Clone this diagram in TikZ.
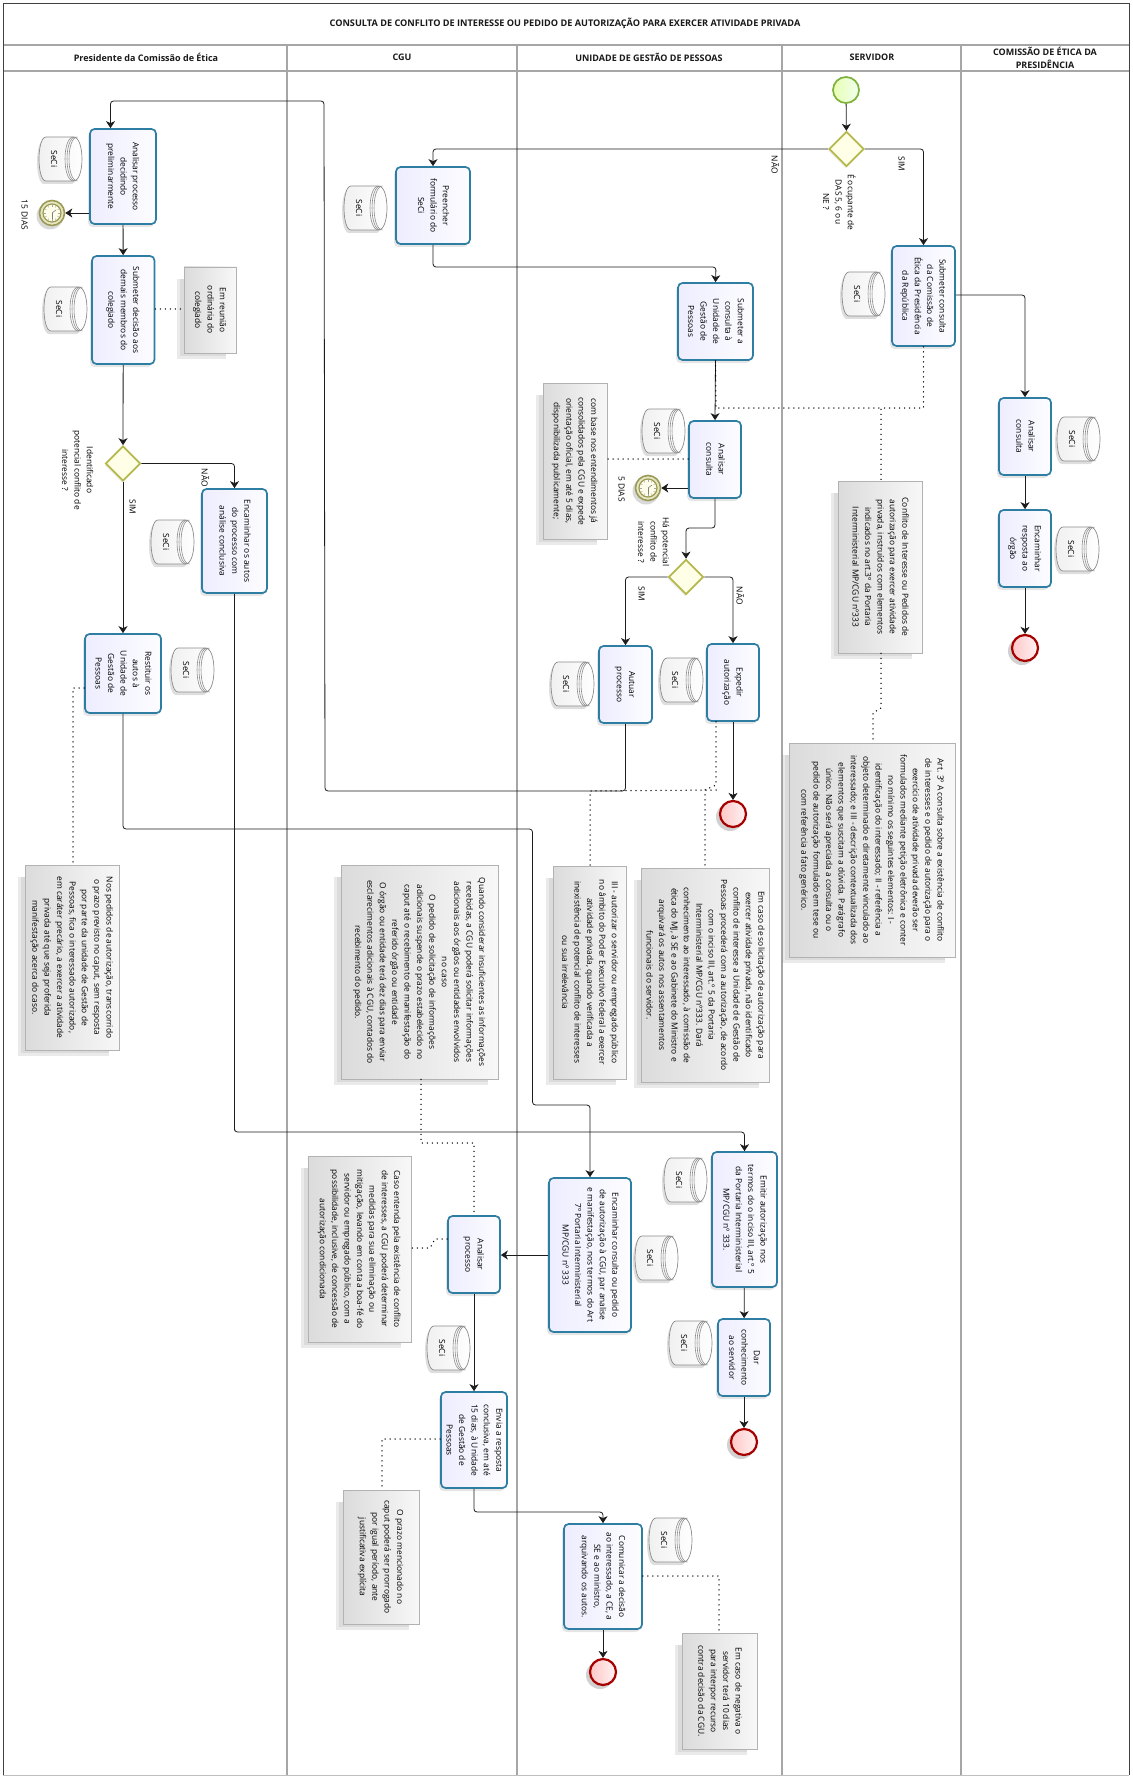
\documentclass[tikz,border=0pt]{standalone}
\usepackage{fontspec}
\usepackage{graphicx}
\setmainfont{Open Sans}
\usetikzlibrary{arrows.meta,shapes.geometric,shadows,calc}
\definecolor{taskblue}{HTML}{2E7DA3}
\definecolor{lanegrey}{HTML}{A6A6A6}
\definecolor{flowline}{HTML}{1C1C1C}
\definecolor{olive}{HTML}{9A9A55}
\definecolor{oliveface}{HTML}{E6E6C2}
\definecolor{gatestroke}{HTML}{B5B84A}
\definecolor{gatefill}{HTML}{FFFFE8}
\definecolor{startstroke}{HTML}{7FB23C}
\newcommand{\fnt}{\fontsize{8.4}{12.4}\selectfont}
\newcommand{\rt}[1]{\rotatebox[origin=c]{-90}{\fnt\begin{tabular}{@{}c@{}}#1\end{tabular}}}
\newcommand{\boxnode}[7][]{% style; name; x1; y1; x2; y2; text
  \node[#1,minimum width={(#5-#3)*1pt},minimum height={(#6-#4)*1pt}] (#2) at ({(#3+#5)/2},{(#4+#6)/2}) {\rt{#7}};}
\newcommand{\tasknode}[6]{\boxnode[taskbox]{#1}{#2}{#3}{#4}{#5}{#6}}
\newcommand{\notenode}[6]{%
  \fill[black!50,opacity=.16] ({#2-7},{#3+12}) rectangle ({#4-10},{#5+6});
  \fill[black!50,opacity=.14] ({#2-4},{#3+12}) rectangle ({#4-10},{#5+3});
  \boxnode[notebox]{#1}{#2}{#3}{#4}{#5}{#6}}
\newcommand{\seci}[3]{%
  \begin{scope}[shift={(#2,#3)}]
    \fill[black,opacity=.13] (5,3) .. controls (-4.3,3) and (-4.3,47) .. (5,47) -- (32.5,47) .. controls (41,47) and (41,3) .. (32.5,3) -- cycle;
    \path[draw=black!45,line width=.7pt,left color=black!6,right color=white] (7,0) .. controls (-2.3,0) and (-2.3,44) .. (7,44) -- (34.5,44) .. controls (45.8,44) and (45.8,0) .. (34.5,0) -- cycle;
    \draw[black!45,line width=.6pt] (34.5,0) .. controls (23.2,0) and (23.2,44) .. (34.5,44);
    \draw[black!45,line width=.6pt] (36.5,0) .. controls (25.2,0) and (25.2,44) .. (36.5,44);
    \draw[black!45,line width=.6pt] (38.5,0) .. controls (27.2,0) and (27.2,44) .. (38.5,44);
    \node[inner sep=0pt] (#1) at (14.5,22) {\rt{SeCi}};
  \end{scope}}
\newcommand{\clockevent}[3]{%
  \fill[black,opacity=.15] (#2-2,#3+3) circle (13.5);
  \node[circle,draw=olive,fill=oliveface,line width=1.6pt,minimum size=25pt,inner sep=0pt] (#1) at (#2,#3) {};
  \draw[olive,fill=white!92!yellow,line width=1.2pt] (#1.center) circle (9);
  \foreach \a in {0,30,...,330} \draw[black!35,line width=.4pt] ($(#1.center)+(\a:8)$) -- ($(#1.center)+(\a:6.2)$);
  \draw[black!50,line width=.6pt] (#1.center) -- +(0,6);
  \draw[black!50,line width=.6pt] (#1.center) -- +(4,-3);}
\newcommand{\finalevent}[3]{%
  \fill[black,opacity=.18] (#2-3,#3+3) circle (14);
  \node[endevent] (#1) at (#2,#3) {};}
\tikzset{
  every node/.style={inner sep=0pt,font=\fnt},
  taskbox/.style={rectangle,rounded corners=4.5pt,draw=taskblue,line width=1.7pt,left color=blue!7!white,right color=blue!1!white,drop shadow={shadow xshift=-2pt,shadow yshift=-3pt,opacity=.2}},
  notebox/.style={rectangle,draw=black!30,line width=.8pt,left color=black!14,right color=black!3},
  gatebox/.style={diamond,aspect=1,draw=gatestroke,line width=1.7pt,fill=gatefill,minimum size=35pt,drop shadow={shadow xshift=-1pt,shadow yshift=-2pt,opacity=.12}},
  startevent/.style={circle,draw=startstroke,line width=1.7pt,left color=green!30!yellow!30,right color=green!6,minimum size=26pt},
  endevent/.style={circle,draw=red!65!black,line width=2.2pt,left color=red!22,right color=red!5,minimum size=26pt},
  flow/.style={draw=flowline,line width=.8pt,rounded corners=3pt,-{Stealth[length=7pt,width=9pt,inset=2pt]}},
  assoc/.style={draw=black,line width=1.5pt,line cap=round,dash pattern=on 0pt off 5pt},
  lane/.style={draw=lanegrey,line width=1.2pt},
  headtext/.style={font=\fontsize{9}{12.5}\selectfont\bfseries,align=center,text=black!90},
  freelabel/.style={font=\fnt},
}
\begin{document}
\begin{tikzpicture}[x=1pt,y=-1pt]
\useasboundingbox (0,0) rectangle (1132,1776);
\fill[white] (0,0) rectangle (1132,1776);
% lanes
\draw[lane] (3,45) -- (1129,45);
\draw[lane] (3,71) -- (1129,71);
\foreach \lx in {287,517,782,961} \draw[lane] (\lx,45) -- (\lx,1775);
\draw[black!25,line width=.8pt] (3,1775) -- (1129,1775);
\draw[black!75,line width=.9pt] (3,1775) -- (3,3) -- (1129,3) -- (1129,1775);
% headers
\node[headtext,font=\fontsize{9.15}{12.5}\selectfont\bfseries] (title) at (565,23) {CONSULTA DE CONFLITO DE INTERESSE OU PEDIDO DE AUTORIZAÇÃO PARA EXERCER ATIVIDADE PRIVADA};
\node[headtext] (h1) at (146,57.5) {Presidente da Comissão de Ética};
\node[headtext] (h2) at (402,57.5) {CGU};
\node[headtext] (h3) at (649,57.5) {UNIDADE DE GESTÃO DE PESSOAS};
\node[headtext] (h4) at (872,57.5) {SERVIDOR};
\node[headtext] (h5) at (1045,58) {COMISSÃO DE ÉTICA DA\\PRESIDÊNCIA};

% notes
\notenode{nReuniao}{184}{267}{236}{353}{Em reunião\\ordinária do\\colegiado}
\notenode{nEntend}{543}{383}{607}{539}{com base nos entendimentos já\\consolidados pela CGU e expede\\orientação oficial, em até 5 dias,\\disponibilizada publicamente;}
\notenode{nConflito}{838}{481}{922}{653}{Conflito de Interesse ou Pedidos de\\autorização para exercer atividade\\privada, instruídos com elementos\\indicados no art.3º da Portaria\\Interministerial MP/CGU nº333}
\notenode{nArt}{789}{743}{955}{957}{Art. 3º A consulta sobre a existência de conflito\\de interesses e o pedido de autorização para o\\exercício de atividade privada deverão ser\\formulados mediante petição eletrônica e conter\\no mínimo os seguintes elementos: I -\\identificação do interessado; II - referência a\\objeto determinado e diretamente vinculado ao\\interessado; e III - descrição contextualizada dos\\elementos que suscitam a dúvida. Parágrafo\\único. Não será apreciada a consulta ou o\\pedido de autorização formulado em tese ou\\com referência a fato genérico.}
\notenode{nPedidos}{25}{865}{119}{1050}{Nos pedidos de autorização, transcorrido\\o prazo previsto no caput, sem resposta\\por parte da unidade de Gestão de\\Pessoas, fica o interessado autorizado,\\em caráter precário, a exercer a atividade\\privada até que seja proferida\\manifestação acerca do caso.}
\notenode{nQuando}{341}{865}{498}{1079}{Quando considerar insuficientes as informações\\recebidas, a CGU poderá solicitar informações\\adicionais aos órgãos ou entidades envolvidos\\no caso\\O pedido de solicitação de informações\\adicionais suspende o prazo estabelecido no\\caput até o recebimento de manifestação do\\referido órgão ou entidade\\O órgão ou entidade terá dez dias para enviar\\esclarecimentos adicionais à CGU, contados do\\recebimento do pedido.}
\notenode{nIII}{553}{866}{626}{1079}{III - autorizar o servidor ou empregado público\\no âmbito do Poder Executivo federal a exercer\\atividade privada, quando verificada a\\inexistência de potencial conflito de interesses\\ou sua irrelevância}
\notenode{nSolic}{641}{868}{769}{1082}{Em caso de solicitação de autorização para\\exercer atividade privada, não identificado\\conflito de interesse a Unidade de Gestão de\\Pessoas procederá com a autorização, de acordo\\com o inciso III, art.º 5 da Portaria\\Interministerial MP/CGU nº333. Dará\\conhecimento ao interessado, à comissão de\\ética do MJ, à SE e ao Gabinete do Ministro e\\arquivará os autos nos assentamentos\\funcionais do servidor.}
\notenode{nCaso}{308}{1156}{411}{1342}{Caso entenda pela existência de conflito\\de interesses, a CGU poderá determinar\\medidas para sua eliminação ou\\mitigação, levando em conta a boa-fé do\\servidor ou empregado público, com a\\possibilidade, inclusive, de concessão de\\autorização condicionada}
\notenode{nPrazo}{343}{1490}{419}{1624}{O prazo mencionado no\\caput poderá ser prorrogado\\por igual período, ante\\justificativa explícita}
\notenode{nNeg}{682}{1633}{757}{1749}{Em caso de negativa o\\servidor terá 10 dias\\para interpor recurso\\contra decisão da CGU.}

% data stores
\seci{s1}{39}{137}\seci{s2}{44}{287}\seci{s3}{151}{520}\seci{s4}{171}{648}
\seci{s5}{344}{186}\seci{s6}{642}{409}\seci{s7}{551}{662}\seci{s8}{660}{658}
\seci{s9}{842}{272}\seci{s10}{1057}{417}\seci{s11}{1056}{527}
\seci{s12}{635}{1236}\seci{s13}{664}{1158}\seci{s14}{669}{1321}
\seci{s15}{427}{1326}\seci{s16}{649}{1518}

% tasks
\tasknode{tAnalisarPres}{90}{129}{156}{224}{Analisar processo\\decidindo\\preliminarmente}
\tasknode{tSubDec}{92}{256}{154.5}{364}{Submeter decisão aos\\demais membros do\\colegiado}
\tasknode{tEncAutos}{202}{489}{267}{593}{Encaminhar os autos\\do processo com\\análise conclusiva}
\tasknode{tRestituir}{85}{634}{161}{713}{Restituir os\\autos à\\Unidade de\\Gestão de\\Pessoas}
\tasknode{tPreencher}{396}{167}{470}{244}{Preencher\\formulário do\\SeCi}
\tasknode{tSubUni}{678}{283}{753}{360}{Submeter a\\consulta à\\Unidade de\\Gestão de\\Pessoas}
\tasknode{tAnalisarUni}{689}{421}{741}{498}{Analisar\\consulta}
\tasknode{tAutuar}{599}{646}{652}{723}{Autuar\\processo}
\tasknode{tExpedir}{707}{644}{759}{721}{Expedir\\autorização}
\tasknode{tSubCons}{892}{246}{955}{346}{Submeter consulta\\da Comissão de\\Ética da Presidência\\da República}
\tasknode{tAnalisarCE}{999}{398}{1051}{475}{Analisar\\consulta}
\tasknode{tEncResp}{999}{510}{1051}{587}{Encaminhar\\resposta ao\\órgão}
\tasknode{tAnalisarCGU}{448}{1216}{500}{1293}{Analisar\\processo}
\tasknode{tEncCons}{549}{1178}{631}{1332}{Encaminhar consulta ou pedido\\de autorização à CGU, par analise\\e manifestação, nos termos do Art\\7º Portaria Interministerial\\MP/CGU nº 333}
\tasknode{tEmitir}{712}{1152}{777}{1287}{Emitir autorização nos\\termos do o inciso III, art.º 5\\da Portaria Interministerial\\MP/CGU nº 333.}
\tasknode{tDar}{718}{1319}{770}{1396}{Dar\\conhecimento\\ao servidor}
\tasknode{tEnvia}{441}{1392}{507}{1488}{Envia a resposta\\conclusiva, em até\\15 dias, à Unidade\\de Gestão de\\Pessoas}
\tasknode{tComunicar}{564}{1524}{642}{1629}{Comunicar a decisão\\ao interessado, a CE, a\\SE e ao ministro,\\arquivando os autos.}

% events and gateways
\node[startevent] (start) at (846,90) {};
\node[gatebox] (gServ) at (846.5,149) {};
\node[gatebox] (gPres) at (123,463.5) {};
\node[gatebox] (gUni) at (686,577) {};
\clockevent{t15}{52}{213}
\clockevent{t5}{648}{488}
\finalevent{eCE}{1025}{648}
\finalevent{eExp}{733}{814}
\finalevent{eDar}{744}{1442}
\finalevent{eCom}{603}{1672}

% free coordinates for bends
\coordinate (a1) at (324,101);
\coordinate (a2) at (110.5,101);
\coordinate (a3) at (325,791);
\coordinate (a4) at (532.5,829);
\coordinate (a5) at (590,1105);
\coordinate (a6) at (234.5,1132);

% flows
\draw[flow] (start) -- (gServ);
\draw[flow] (gServ.west) -| (tPreencher.north);
\draw[flow] (gServ.east) -| (tSubCons.north);
\draw[flow] (tPreencher.south) |- (716,267) -- (tSubUni.north);
\draw[flow] (tSubUni.south) -- (tAnalisarUni.north);
\draw[flow] (tSubCons.east |- 0,295) -| (tAnalisarCE.north);
\draw[flow] (tAnalisarCE) -- (tEncResp);
\draw[flow] (tEncResp) -- (eCE);
\draw[flow] (tAnalisarUni.west |- t5) -- (t5);
\draw[flow] (tAnalisarUni.south) |- (686,528) -- (gUni.north);
\draw[flow] (gUni.west) -| (tAutuar.north);
\draw[flow] (gUni.east) -| (tExpedir.north);
\draw[flow] (tExpedir) -- (eExp);
\draw[flow] (tAutuar.south) |- (a3) -- (a1) -- (a2) -- (a2 |- tAnalisarPres.north);
\draw[flow] (tAnalisarPres.west |- t15) -- (t15);
\draw[flow] (tAnalisarPres) -- (tSubDec);
\draw[flow] (tSubDec) -- (gPres);
\draw[flow] (gPres.east) -| (tEncAutos.north);
\draw[flow] (gPres.south) -- (tRestituir.north);
\draw[flow] (tRestituir.south) |- (a4) |- (a5) -- (tEncCons.north);
\draw[flow] (tEncAutos.south) |- (a6) -| (tEmitir.north);
\draw[flow] (tEmitir) -- (tDar);
\draw[flow] (tDar) -- (eDar);
\draw[flow] (tEncCons.west |- 0,1255) -- (tAnalisarCGU.east |- 0,1255);
\draw[flow] (tAnalisarCGU) -- (tEnvia);
\draw[flow] (tEnvia.south) |- (603,1512) -- (tComunicar.north);
\draw[flow] (tComunicar) -- (eCom);

% associations
\draw[assoc] (tSubDec.east |- 0,309) -- (nReuniao.west |- 0,309);
\draw[assoc] (tAnalisarUni.west |- 0,459) -- (nEntend.east |- 0,459);
\draw[assoc] (tSubUni.south) -- (716,408) -- (881,408);
\draw[assoc] (tSubCons.south) |- (881,408) -- (nConflito.north -| 881,0);
\draw[assoc] (nConflito.south -| 881,0) -- (881,708) -- (873,713) -- (nArt.north -| 873,0);
\draw[assoc] (tRestituir.west |- 0,688) -- (73,688) -- (nPedidos.north -| 73,0);
\draw[assoc] (nQuando.south -| 421,0) -- (421,1143) -- (474,1143) -- (tAnalisarCGU.north);
\draw[assoc] (tExpedir.south -| 716,0) -- (716,785) -- (705,790) -- (nSolic.north -| 705,0);
\draw[assoc] (716,790) -- (590,791) -- (nIII.north -| 590,0);
\draw[assoc] (tAnalisarCGU.west |- 0,1239) -- (435,1239) -- (430,1248) -- (nCaso.east |- 0,1248);
\draw[assoc] (tEnvia.west |- 0,1439) -- (382,1439) -- (nPrazo.north -| 382,0);
\draw[assoc] (tComunicar.east |- 0,1576) -- (719,1576) -- (nNeg.north -| 719,0);

% labels
\node[freelabel] (l1) at (774,165) {\rt{NÃO}};
\node[freelabel] (l2) at (901,164) {\rt{SIM}};
\node[freelabel] (l3) at (838,202) {\rt{É ocupante de\\DAS 5, 6 ou\\NE ?}};
\node[freelabel] (l4) at (77,470) {\rt{Identificado\\potencial conflito de\\interesse ?}};
\node[freelabel] (l5) at (204,478) {\rt{NÃO}};
\node[freelabel] (l6) at (132,507) {\rt{SIM}};
\node[freelabel] (l7) at (653,542) {\rt{Há potencial\\conflito de\\interesse ?}};
\node[freelabel] (l8) at (641,594) {\rt{SIM}};
\node[freelabel] (l9) at (739,596) {\rt{NÃO}};
\node[freelabel] (l10) at (621,489) {\rt{5 DIAS}};
\node[freelabel] (l11) at (24,215) {\rt{15 DIAS}};
\end{tikzpicture}
\end{document}
